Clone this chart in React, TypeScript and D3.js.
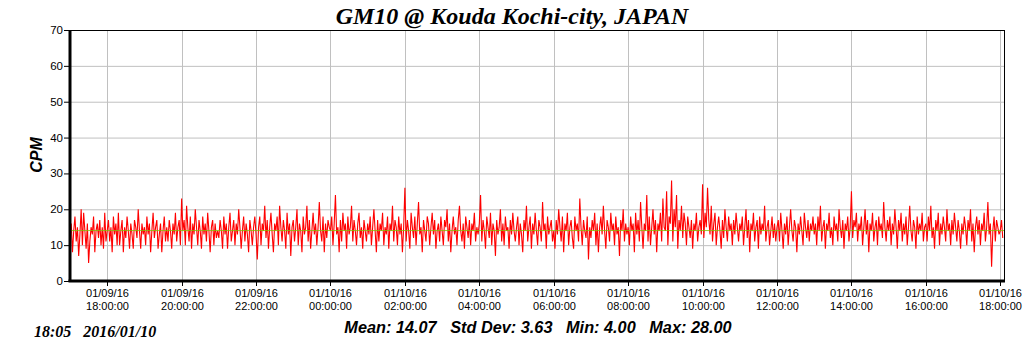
import React from "react";
import * as d3 from "d3";

const svgWidth = 1024;
const svgHeight = 351;
const margin = { top: 30, right: 20, bottom: 70, left: 70 };
const innerWidth = 1004 - margin.left;
const innerHeight = 281 - margin.top;

const title = "GM10 @ Kouda Kochi-city, JAPAN";
const yLabel = "CPM";
const stamp = "18:05   2016/01/10";
const stats = "Mean: 14.07   Std Dev: 3.63   Min: 4.00   Max: 28.00";
const meanValue = 14.07;

const yTicks = [0, 10, 20, 30, 40, 50, 60, 70];
const xTickLabels = [
  ["01/09/16", "18:00:00"],
  ["01/09/16", "20:00:00"],
  ["01/09/16", "22:00:00"],
  ["01/10/16", "00:00:00"],
  ["01/10/16", "02:00:00"],
  ["01/10/16", "04:00:00"],
  ["01/10/16", "06:00:00"],
  ["01/10/16", "08:00:00"],
  ["01/10/16", "10:00:00"],
  ["01/10/16", "12:00:00"],
  ["01/10/16", "14:00:00"],
  ["01/10/16", "16:00:00"],
  ["01/10/16", "18:00:00"],
];
const xTickTimes = [
  "2016-01-09T18:00", "2016-01-09T20:00", "2016-01-09T22:00",
  "2016-01-10T00:00", "2016-01-10T02:00", "2016-01-10T04:00",
  "2016-01-10T06:00", "2016-01-10T08:00", "2016-01-10T10:00",
  "2016-01-10T12:00", "2016-01-10T14:00", "2016-01-10T16:00",
  "2016-01-10T18:00",
];

const startTime = "2016-01-09T17:00";
const endTime = "2016-01-10T18:06";
const stepMinutes = 2;

// counts per minute, one reading every 2 minutes, a row per hour from 17:00 01/09
const cpm = [
  12,16,8,14,18,11,15,7,13,20,10,19,14,9,16,5,11,15,13,18,8,14,16,12,17,10,15,9,19,11,
  14,17,11,15,8,18,13,16,10,19,10,14,17,8,15,12,18,14,9,16,13,9,17,15,12,20,14,9,16,13,
  15,10,18,13,16,8,14,19,12,15,17,9,13,16,8,14,18,11,15,11,17,14,9,16,13,19,11,15,17,10,
  23,14,17,10,21,15,11,18,9,16,13,20,15,10,17,14,9,18,13,16,11,19,14,8,15,17,10,16,12,14,
  12,17,14,9,18,13,16,9,15,19,11,14,17,10,16,13,20,15,9,14,18,11,16,13,8,17,14,10,15,18,
  13,6,15,18,10,16,14,21,12,17,9,15,19,13,8,16,14,18,10,21,15,11,17,14,9,19,13,16,7,15,
  17,11,15,20,10,16,14,8,18,13,15,21,11,17,9,14,19,13,16,10,15,22,14,11,18,8,16,12,17,15,
  14,18,10,16,24,13,15,8,17,11,19,14,16,9,18,13,15,21,11,17,14,10,16,19,12,15,9,17,14,11,
  16,13,18,10,15,20,14,8,17,11,16,14,19,10,15,13,18,9,16,14,21,11,17,15,10,18,13,16,8,15,
  26,11,17,14,9,19,15,12,18,10,16,22,13,15,8,17,14,11,18,16,10,15,19,13,17,9,14,16,11,18,
  14,10,17,15,20,11,16,8,14,18,13,15,10,17,21,14,11,16,9,18,15,12,17,10,16,14,19,11,15,13,
  16,24,11,17,14,9,18,15,12,19,10,16,14,7,17,13,15,20,11,16,10,18,14,15,9,17,13,19,14,11,
  15,18,10,16,13,8,17,14,21,11,15,18,9,16,13,19,14,10,17,15,11,22,14,16,9,18,13,15,17,11,
  14,9,17,13,20,15,11,18,8,16,14,19,10,15,17,12,9,18,14,16,11,23,15,10,17,14,12,18,6,15,
  12,17,14,19,10,16,8,15,18,13,21,14,9,17,15,11,19,14,16,10,18,13,15,7,17,14,20,11,16,13,
  15,10,18,14,16,8,19,13,17,11,22,15,9,16,14,24,11,18,10,15,20,13,17,8,16,14,19,11,23,15,
  14,25,10,18,16,28,11,20,15,24,9,17,14,21,12,19,16,10,18,15,12,17,9,16,14,19,11,15,17,13,
  27,12,19,15,26,17,13,21,11,16,19,10,15,18,14,9,17,12,20,15,11,18,14,16,10,17,13,19,15,11,
  16,14,18,10,15,20,12,17,8,16,14,19,11,15,17,9,18,13,16,14,21,11,15,17,10,14,18,12,16,11,
  15,17,11,19,14,9,16,13,18,10,15,20,14,11,17,15,8,16,13,18,14,10,19,15,12,17,11,16,14,18,
  13,16,10,18,14,21,11,15,17,9,16,14,19,12,15,10,18,14,16,11,20,15,12,17,9,16,14,18,11,15,
  25,12,17,15,19,11,16,14,18,10,15,20,13,17,8,16,14,19,11,15,17,10,18,14,16,12,22,15,11,17,
  14,18,10,16,13,20,15,9,17,14,19,11,16,13,18,10,15,21,14,11,17,15,9,18,13,16,14,19,11,15,
  16,11,18,14,21,12,15,9,17,14,19,10,16,13,18,15,11,20,14,16,10,17,13,19,15,11,17,14,9,16,
  13,18,15,10,17,14,20,11,16,8,15,18,13,17,10,16,14,19,11,15,22,13,16,4,14,18,11,17,15,13,
  14,17,12,
];

const parse = (s: string) => new Date(s);

const App = () => {
  const t0 = parse(startTime);
  const xScale = d3
    .scaleTime()
    .domain([t0, parse(endTime)])
    .range([0, innerWidth]);
  const yScale = d3.scaleLinear().domain([0, 70]).range([innerHeight, 0]);

  const line = d3
    .line<number>()
    .x((d, i) => xScale(new Date(t0.getTime() + i * stepMinutes * 60000)))
    .y((d) => yScale(d));

  const sans = "Arial, 'Liberation Sans', sans-serif";
  const serif = "'Times New Roman', 'Liberation Serif', serif";

  return (
    <svg
      width={svgWidth}
      height={svgHeight}
      style={{ position: "absolute", left: 0, top: 0, background: "white" }}
    >
      <text
        x={512}
        y={24}
        textAnchor="middle"
        fontFamily={serif}
        fontWeight="bold"
        fontStyle="italic"
        fontSize={24}
      >
        {title}
      </text>
      <g transform={`translate(${margin.left},${margin.top})`}>
        {yTicks.map((t) => (
          <g key={"y" + t}>
            <line
              x1={0}
              x2={innerWidth}
              y1={yScale(t) + 0.5}
              y2={yScale(t) + 0.5}
              stroke="#c0c0c0"
            />
            <line
              x1={-6}
              x2={0}
              y1={yScale(t) + 0.5}
              y2={yScale(t) + 0.5}
              stroke="#000"
            />
            <text
              x={-7}
              y={yScale(t) + 4}
              textAnchor="end"
              fontFamily={sans}
              fontSize={11.5}
            >
              {t}
            </text>
          </g>
        ))}
        {xTickTimes.map((s, i) => {
          const x = Math.round(xScale(parse(s))) + 0.5;
          return (
            <g key={s}>
              <line x1={x} x2={x} y1={0} y2={innerHeight} stroke="#c0c0c0" />
              <line x1={x} x2={x} y1={innerHeight} y2={innerHeight + 5} stroke="#000" />
              <text
                x={x}
                y={innerHeight + 16}
                textAnchor="middle"
                fontFamily={sans}
                fontSize={11}
              >
                {xTickLabels[i][0]}
              </text>
              <text
                x={x}
                y={innerHeight + 29}
                textAnchor="middle"
                fontFamily={sans}
                fontSize={11}
              >
                {xTickLabels[i][1]}
              </text>
            </g>
          );
        })}
        <path d={line(cpm) || ""} fill="none" stroke="#ff0000" strokeWidth={1.1} />
        <line
          x1={0}
          x2={innerWidth}
          y1={yScale(meanValue)}
          y2={yScale(meanValue)}
          stroke="#80c000"
          strokeWidth={1}
          opacity={0.8}
        />
        <line x1={0} x2={innerWidth} y1={0.5} y2={0.5} stroke="#000" />
        <line x1={innerWidth + 0.5} x2={innerWidth + 0.5} y1={0} y2={innerHeight} stroke="#000" />
        <line x1={0} x2={0} y1={0} y2={innerHeight + 1} stroke="#000" strokeWidth={3} />
        <line x1={-1.5} x2={innerWidth + 1} y1={innerHeight} y2={innerHeight} stroke="#000" strokeWidth={3} />
      </g>
      <text
        transform={`translate(42,155) rotate(-90)`}
        textAnchor="middle"
        fontFamily={sans}
        fontWeight="bold"
        fontStyle="italic"
        fontSize={16}
      >
        {yLabel}
      </text>
      <text
        x={34}
        y={337}
        fontFamily={serif}
        fontWeight="bold"
        fontStyle="italic"
        fontSize={16}
        style={{ whiteSpace: "pre" }}
      >
        {stamp}
      </text>
      <text
        x={538}
        y={333}
        textAnchor="middle"
        fontFamily={sans}
        fontWeight="bold"
        fontStyle="italic"
        fontSize={16.3}
        style={{ whiteSpace: "pre" }}
      >
        {stats}
      </text>
    </svg>
  );
};

export default App;
